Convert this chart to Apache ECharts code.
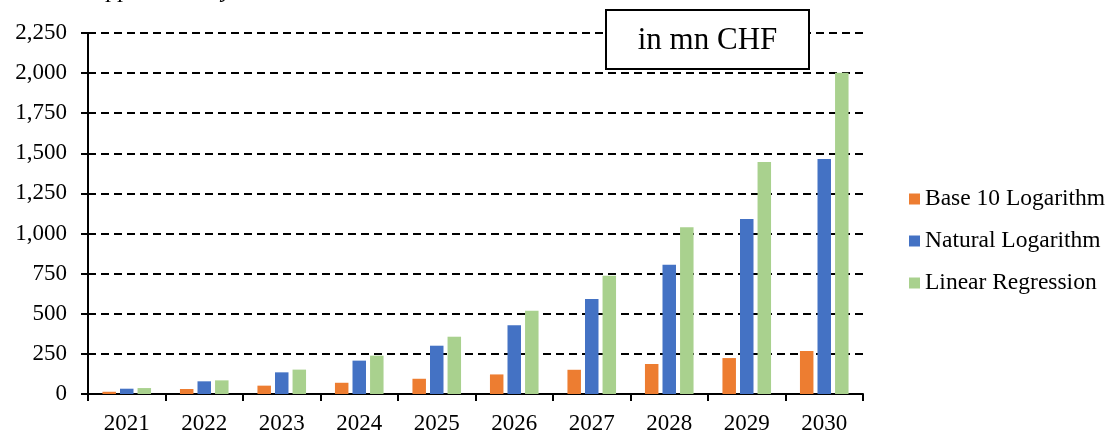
<!DOCTYPE html>
<html>
<head>
<meta charset="utf-8">
<script src="https://cdn.jsdelivr.net/npm/echarts@6/dist/echarts.min.js"></script>
<style>
    html, body { margin: 0; padding: 0; background: #fff; }
    #chart { width: 1107px; height: 432px; }
</style>
</head>
<body>
<div id="chart"></div>
<script>
var years = ['2021', '2022', '2023', '2024', '2025', '2026', '2027', '2028', '2029', '2030'];
var base10Log = [14, 31, 52, 70, 95, 122, 151, 187, 224, 268];
var naturalLog = [33, 79, 135, 208, 301, 428, 592, 806, 1091, 1465];
var linearReg = [37, 85, 152, 239, 357, 519, 737, 1039, 1446, 2003];
var seriesNames = ['Base 10 Logarithm', 'Natural Logarithm', 'Linear Regression'];
var yMin = 0, yMax = 2250, yStep = 250;

var chartMgr = {

    init: function () {
        var myChart = echarts.init(document.getElementById('chart'));
        var font = 'Liberation Serif';

        var makeBar = function (name, data, color) {
            return {
                name: name,
                type: 'bar',
                data: data,
                barWidth: 13.5,
                barGap: '30%',
                itemStyle: { color: color }
            };
        };

        var option = {
            animation: false,
            textStyle: { fontFamily: font, color: '#000' },
            grid: { left: 88, right: 244, top: 33, bottom: 38, containLabel: false, outerBoundsMode: 'none' },
            legend: {
                orient: 'vertical',
                left: 904,
                top: 182,
                itemWidth: 11,
                itemHeight: 11,
                itemGap: 18,
                icon: 'rect',
                textStyle: { fontFamily: font, fontSize: 23.5, color: '#000' },
                data: seriesNames
            },
            xAxis: {
                type: 'category',
                data: years,
                axisLine: { lineStyle: { color: '#000', width: 2 } },
                axisTick: { show: true, length: 7, lineStyle: { color: '#000', width: 2 } },
                axisLabel: { fontFamily: font, fontSize: 23, color: '#000', margin: 18 }
            },
            yAxis: {
                type: 'value',
                min: yMin,
                max: yMax,
                interval: yStep,
                axisLine: { show: true, lineStyle: { color: '#000', width: 2 } },
                axisTick: { show: true, length: 7, lineStyle: { color: '#000', width: 2 } },
                axisLabel: {
                    fontFamily: font, fontSize: 23, color: '#000', margin: 21,
                    formatter: function (v) { return v.toLocaleString('en-US'); }
                },
                splitLine: {
                    show: true,
                    lineStyle: { color: '#000', width: 2, type: [8, 5] }
                }
            },
            graphic: [
                {
                    type: 'text',
                    left: 92,
                    top: -21,
                    style: {
                        text: 'Approximately',
                        font: 'italic 24px "Liberation Serif"',
                        fill: '#000'
                    }
                },
                {
                    type: 'group',
                    left: 605,
                    top: 9,
                    z: 100,
                    children: [
                        {
                            type: 'rect',
                            z: 100,
                            shape: { x: 0, y: 0, width: 203, height: 59 },
                            style: { fill: '#fff', stroke: '#000', lineWidth: 2 }
                        },
                        {
                            type: 'text',
                            z: 101,
                            x: 101.5,
                            y: 31,
                            style: {
                                text: 'in mn CHF',
                                font: '31px "Liberation Serif"',
                                fill: '#000',
                                align: 'center',
                                verticalAlign: 'middle'
                            }
                        }
                    ]
                }
            ],
            series: [
                makeBar(seriesNames[0], base10Log, '#ED7D31'),
                makeBar(seriesNames[1], naturalLog, '#4472C4'),
                makeBar(seriesNames[2], linearReg, '#A9D18E')
            ]
        };

        myChart.setOption(option);
    }
};

chartMgr.init();
</script>
</body>
</html>
